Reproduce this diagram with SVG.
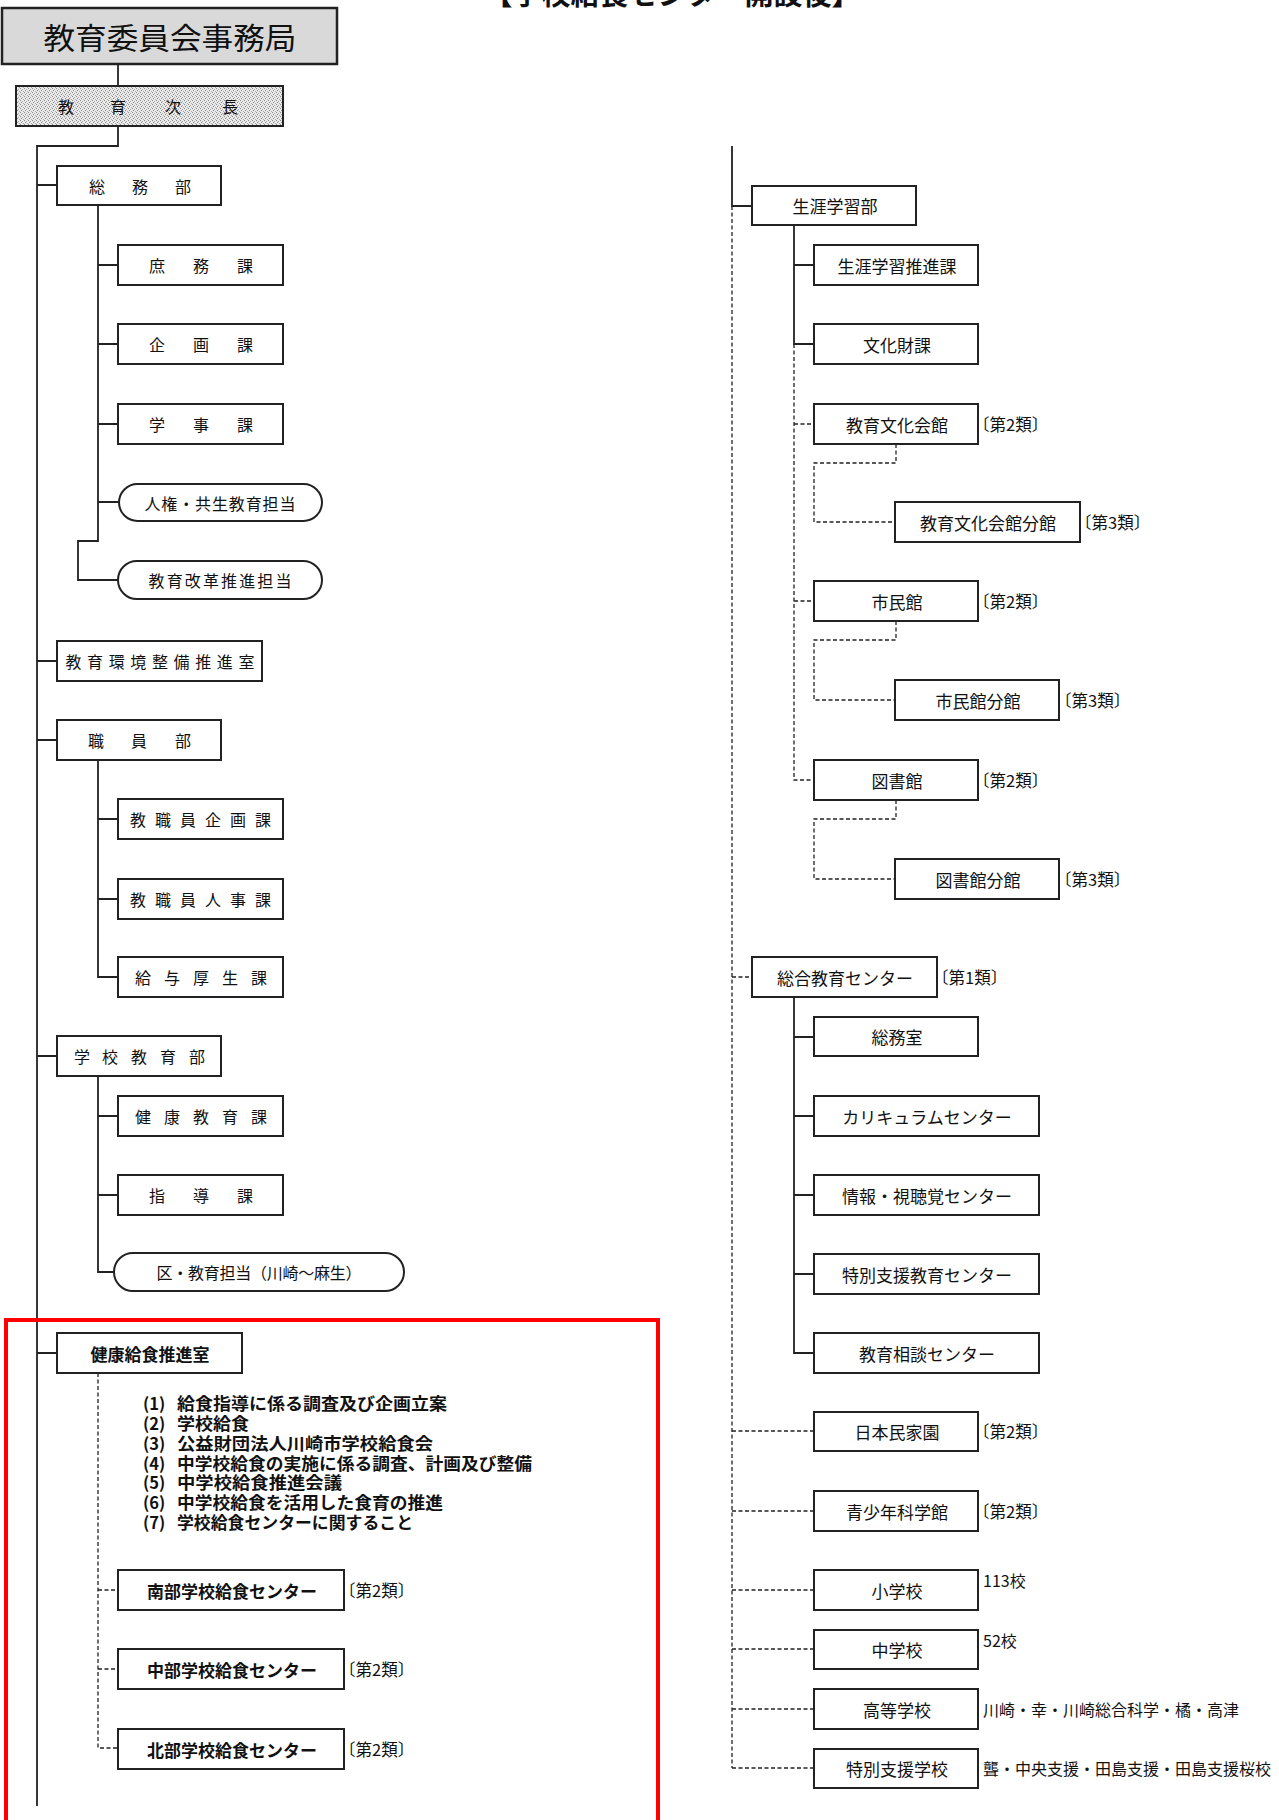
<svg xmlns="http://www.w3.org/2000/svg" width="1279" height="1820" viewBox="0 0 1279 1820">
<defs>
<pattern id="stip" width="4" height="4" patternUnits="userSpaceOnUse">
<rect width="4" height="4" fill="#eaeaea"/>
<rect x="0" y="0" width="1" height="1" fill="#8a8a8a"/>
<rect x="2" y="1" width="1" height="1" fill="#a8a8a8"/>
<rect x="1" y="2" width="1" height="1" fill="#8a8a8a"/>
<rect x="3" y="3" width="1" height="1" fill="#a8a8a8"/>
</pattern>
</defs>
<style>
.box{fill:#fff;stroke:#222;stroke-width:2}
.ln{fill:none;stroke:#222;stroke-width:1.8}
.dl{fill:none;stroke:#222;stroke-width:1.3;stroke-dasharray:4 2.5}
.t{font-family:"Noto Sans CJK JP","Noto Sans CJK SC",sans-serif;font-size:17px;fill:#111;text-anchor:middle;dominant-baseline:central}
.s{font-size:16px}
.b{font-weight:bold}
.lab{font-family:"Noto Sans CJK JP","Noto Sans CJK SC",sans-serif;font-size:16.5px;fill:#111;dominant-baseline:central}
.item{font-family:"Noto Sans CJK JP","Noto Sans CJK SC",sans-serif;font-size:16.5px;font-weight:bold;fill:#111;dominant-baseline:central}
</style>
<rect width="1279" height="1820" fill="#fff"/>

<text x="672" y="5" style="font-family:'Noto Sans CJK JP',sans-serif;font-size:29px;font-weight:bold;fill:#111;text-anchor:middle">【学校給食センター開設後】</text>

<g id="connectors">
<line class="ln" x1="118" y1="64" x2="118" y2="86"/>
<path class="ln" d="M118,126 V146 H37 V1806"/>
<path class="ln" d="M37,185 H57 M37,661 H57 M37,740 H57 M37,1056 H57 M37,1353 H57"/>
<path class="ln" d="M98,205 V541 H78 V580 H118 M98,265 H118 M98,344 H118 M98,424 H118 M98,502 H119"/>
<path class="ln" d="M98,760 V977 H118 M98,819 H118 M98,899 H118"/>
<path class="ln" d="M98,1076 V1272 H114 M98,1116 H118 M98,1195 H118"/>
<path class="dl" d="M98,1373 V1748 H118 M98,1590 H118 M98,1669 H118"/>

<path class="ln" d="M732,146 V206 H752"/>
<path class="dl" d="M732,206 V1768"/>
<path class="ln" d="M794,225 V344 H814 M794,265 H814"/>
<path class="dl" d="M794,344 V780 H814 M794,424 H814 M794,601 H814"/>
<path class="dl" d="M896,444 V463 H814 V522 H895"/>
<path class="dl" d="M896,621 V640 H814 V700 H895"/>
<path class="dl" d="M896,800 V819 H814 V879 H895"/>
<path class="dl" d="M732,977 H752"/>
<path class="ln" d="M794,997 V1353 H814 M794,1037 H814 M794,1116 H814 M794,1195 H814 M794,1274 H814"/>
<path class="dl" d="M732,1431 H814 M732,1511 H814 M732,1590 H814 M732,1649 H814 M732,1709 H814 M732,1768 H814"/>
</g>

<g id="n-top"><rect x="2" y="8" width="335" height="56" fill="#d9d9d9" stroke="#222" stroke-width="2.5"/>
<text class="t" x="170" y="36" style="font-size:30px" textLength="253" lengthAdjust="spacingAndGlyphs">教育委員会事務局</text></g>
<g id="n-jicho"><rect x="16" y="86" width="267" height="40" fill="url(#stip)" stroke="#222" stroke-width="2"/>
<text class="t s" x="66 118 173 230" y="106">教育次長</text></g>

<g id="n-somu"><rect class="box" x="57" y="166" width="164" height="39"/><text class="t s" x="97 140 183" y="185.5">総務部</text></g>
<g id="n-shomu"><rect class="box" x="118" y="245" width="165" height="40"/><text class="t s" x="157 201 245" y="265">庶務課</text></g>
<g id="n-kikaku"><rect class="box" x="118" y="324" width="165" height="40"/><text class="t s" x="157 201 245" y="344">企画課</text></g>
<g id="n-gakuji"><rect class="box" x="118" y="404" width="165" height="40"/><text class="t s" x="157 201 245" y="424">学事課</text></g>
<g id="n-jinken"><rect class="box" x="119" y="484" width="203" height="37" rx="18.5"/><text class="t s" x="220" y="502.5" textLength="151" lengthAdjust="spacing">人権・共生教育担当</text></g>
<g id="n-kaikaku"><rect class="box" x="118" y="561" width="204" height="38" rx="19"/><text class="t s" x="220" y="580" textLength="143" lengthAdjust="spacing">教育改革推進担当</text></g>
<g id="n-kankyo"><rect class="box" x="57" y="641" width="205" height="40"/><text class="t s" x="160" y="661" textLength="189" lengthAdjust="spacing">教育環境整備推進室</text></g>
<g id="n-shokuin"><rect class="box" x="57" y="720" width="164" height="40"/><text class="t s" x="96 139 183" y="740">職員部</text></g>
<g id="n-kyokikaku"><rect class="box" x="118" y="799" width="165" height="40"/><text class="t s" x="138 163 188 213 238 263" y="819">教職員企画課</text></g>
<g id="n-kyojinji"><rect class="box" x="118" y="879" width="165" height="40"/><text class="t s" x="138 163 188 213 238 263" y="899">教職員人事課</text></g>
<g id="n-kyuyo"><rect class="box" x="118" y="957" width="165" height="40"/><text class="t s" x="143 172 201 230 259" y="977">給与厚生課</text></g>
<g id="n-gakko"><rect class="box" x="57" y="1036" width="164" height="40"/><text class="t s" x="82 110 139 168 197" y="1056">学校教育部</text></g>
<g id="n-kenko"><rect class="box" x="118" y="1096" width="165" height="40"/><text class="t s" x="143 172 201 230 259" y="1116">健康教育課</text></g>
<g id="n-shido"><rect class="box" x="118" y="1175" width="165" height="40"/><text class="t s" x="157 201 245" y="1195">指導課</text></g>
<g id="n-ku"><rect class="box" x="114" y="1253" width="290" height="38" rx="19"/><text class="t s" x="259" y="1272" textLength="205" lengthAdjust="spacing">区・教育担当（川崎～麻生）</text></g>

<rect x="6" y="1320" width="652" height="540" fill="none" stroke="#ff0000" stroke-width="4"/>

<g id="n-kyushoku"><rect class="box" x="57" y="1333" width="185" height="40"/><text class="t b" x="150" y="1353">健康給食推進室</text></g>
<g id="items">
<text class="item" y="1403"><tspan x="143">(1)</tspan><tspan x="177" textLength="270" lengthAdjust="spacingAndGlyphs">給食指導に係る調査及び企画立案</tspan></text>
<text class="item" y="1423"><tspan x="143">(2)</tspan><tspan x="177" textLength="72" lengthAdjust="spacingAndGlyphs">学校給食</tspan></text>
<text class="item" y="1443"><tspan x="143">(3)</tspan><tspan x="177" textLength="256" lengthAdjust="spacingAndGlyphs">公益財団法人川崎市学校給食会</tspan></text>
<text class="item" y="1463"><tspan x="143">(4)</tspan><tspan x="177" textLength="355" lengthAdjust="spacingAndGlyphs">中学校給食の実施に係る調査、計画及び整備</tspan></text>
<text class="item" y="1482"><tspan x="143">(5)</tspan><tspan x="177" textLength="165" lengthAdjust="spacingAndGlyphs">中学校給食推進会議</tspan></text>
<text class="item" y="1502"><tspan x="143">(6)</tspan><tspan x="177" textLength="266" lengthAdjust="spacingAndGlyphs">中学校給食を活用した食育の推進</tspan></text>
<text class="item" y="1522"><tspan x="143">(7)</tspan><tspan x="177" textLength="236" lengthAdjust="spacingAndGlyphs">学校給食センターに関すること</tspan></text>
</g>
<g id="n-nanbu"><rect class="box" x="118" y="1570" width="226" height="40"/><text class="t b" x="232" y="1590">南部学校給食センター</text><text class="lab" x="339" y="1590">〔第2類〕</text></g>
<g id="n-chubu"><rect class="box" x="118" y="1649" width="226" height="40"/><text class="t b" x="232" y="1669">中部学校給食センター</text><text class="lab" x="339" y="1669">〔第2類〕</text></g>
<g id="n-hokubu"><rect class="box" x="118" y="1729" width="226" height="40"/><text class="t b" x="232" y="1749">北部学校給食センター</text><text class="lab" x="339" y="1749">〔第2類〕</text></g>

<g id="n-shogai"><rect class="box" x="752" y="186" width="164" height="39"/><text class="t" x="835" y="205.5">生涯学習部</text></g>
<g id="n-shogaisuishin"><rect class="box" x="814" y="245" width="164" height="40"/><text class="t" x="897" y="265">生涯学習推進課</text></g>
<g id="n-bunkazai"><rect class="box" x="814" y="324" width="164" height="40"/><text class="t" x="897" y="344">文化財課</text></g>
<g id="n-kyobunka"><rect class="box" x="814" y="404" width="164" height="40"/><text class="t" x="897" y="424">教育文化会館</text><text class="lab" x="973" y="424">〔第2類〕</text></g>
<g id="n-kyobunkabun"><rect class="box" x="895" y="502" width="185" height="40"/><text class="t" x="988" y="522">教育文化会館分館</text><text class="lab" x="1075" y="522">〔第3類〕</text></g>
<g id="n-shimin"><rect class="box" x="814" y="581" width="164" height="40"/><text class="t" x="897" y="601">市民館</text><text class="lab" x="973" y="601">〔第2類〕</text></g>
<g id="n-shiminbun"><rect class="box" x="895" y="680" width="164" height="40"/><text class="t" x="978" y="700">市民館分館</text><text class="lab" x="1055" y="700">〔第3類〕</text></g>
<g id="n-tosho"><rect class="box" x="814" y="760" width="164" height="40"/><text class="t" x="897" y="780">図書館</text><text class="lab" x="973" y="780">〔第2類〕</text></g>
<g id="n-toshobun"><rect class="box" x="895" y="859" width="164" height="40"/><text class="t" x="978" y="879">図書館分館</text><text class="lab" x="1055" y="879">〔第3類〕</text></g>
<g id="n-sogo"><rect class="box" x="752" y="957" width="185" height="40"/><text class="t" x="845" y="977">総合教育センター</text><text class="lab" x="932" y="977">〔第1類〕</text></g>
<g id="n-somushitsu"><rect class="box" x="814" y="1017" width="164" height="39"/><text class="t" x="897" y="1036.5">総務室</text></g>
<g id="n-curriculum"><rect class="box" x="814" y="1096" width="225" height="40"/><text class="t" x="927" y="1116">カリキュラムセンター</text></g>
<g id="n-joho"><rect class="box" x="814" y="1175" width="225" height="40"/><text class="t" x="927" y="1195">情報・視聴覚センター</text></g>
<g id="n-tokubetsu"><rect class="box" x="814" y="1254" width="225" height="40"/><text class="t" x="927" y="1274">特別支援教育センター</text></g>
<g id="n-sodan"><rect class="box" x="814" y="1333" width="225" height="40"/><text class="t" x="927" y="1353">教育相談センター</text></g>
<g id="n-minka"><rect class="box" x="814" y="1412" width="164" height="39"/><text class="t" x="897" y="1431.5">日本民家園</text><text class="lab" x="973" y="1431">〔第2類〕</text></g>
<g id="n-kagaku"><rect class="box" x="814" y="1491" width="164" height="40"/><text class="t" x="897" y="1511">青少年科学館</text><text class="lab" x="973" y="1511">〔第2類〕</text></g>
<g id="n-sho"><rect class="box" x="814" y="1570" width="164" height="40"/><text class="t" x="897" y="1590">小学校</text><text class="lab" x="983" y="1580" style="font-size:16px">113校</text></g>
<g id="n-chu"><rect class="box" x="814" y="1630" width="164" height="39"/><text class="t" x="897" y="1649.5">中学校</text><text class="lab" x="983" y="1640" style="font-size:16px">52校</text></g>
<g id="n-koto"><rect class="box" x="814" y="1689" width="164" height="40"/><text class="t" x="897" y="1709">高等学校</text><text class="lab" x="983" y="1709" style="font-size:16px">川崎・幸・川崎総合科学・橘・高津</text></g>
<g id="n-tokushi"><rect class="box" x="814" y="1749" width="164" height="39"/><text class="t" x="897" y="1768.5">特別支援学校</text><text class="lab" x="983" y="1768" style="font-size:16px">聾・中央支援・田島支援・田島支援桜校</text></g>
</svg>
